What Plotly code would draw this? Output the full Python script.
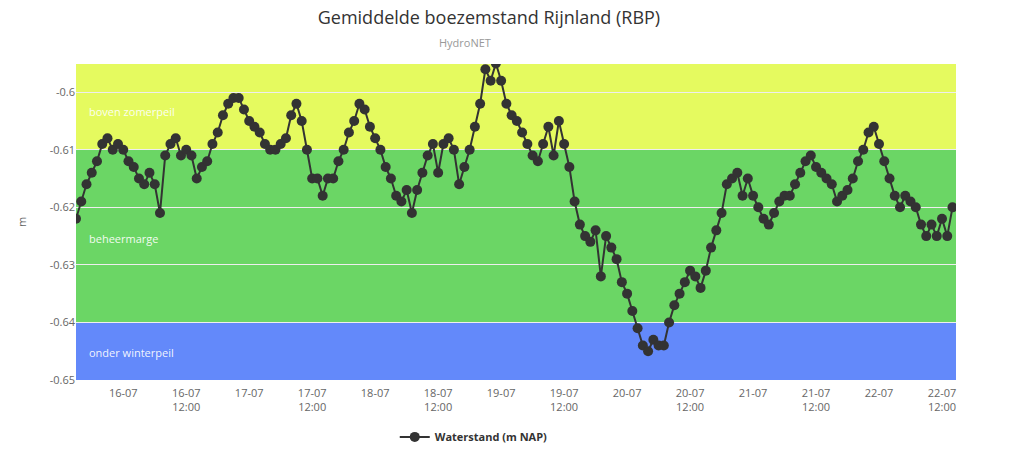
import pandas as pd
import plotly.graph_objects as go

# ---- data ----
start_time = "2019-07-15 15:00"
waterstand = [
    -0.622, -0.619, -0.616, -0.614, -0.612, -0.609, -0.608, -0.610, -0.609, -0.610,
    -0.612, -0.613, -0.615, -0.616, -0.614, -0.616, -0.621, -0.611, -0.609, -0.608,
    -0.611, -0.610, -0.611, -0.615, -0.613, -0.612, -0.609, -0.607, -0.604, -0.602,
    -0.601, -0.601, -0.603, -0.605, -0.606, -0.607, -0.609, -0.610, -0.610, -0.609,
    -0.608, -0.604, -0.602, -0.605, -0.610, -0.615, -0.615, -0.618, -0.615, -0.615,
    -0.612, -0.610, -0.607, -0.605, -0.602, -0.603, -0.606, -0.608, -0.610, -0.613,
    -0.615, -0.618, -0.619, -0.617, -0.621, -0.617, -0.614, -0.611, -0.609, -0.614,
    -0.609, -0.608, -0.610, -0.616, -0.613, -0.610, -0.606, -0.602, -0.596, -0.598,
    -0.595, -0.598, -0.602, -0.604, -0.605, -0.607, -0.609, -0.611, -0.612, -0.609,
    -0.606, -0.611, -0.605, -0.609, -0.613, -0.619, -0.623, -0.625, -0.626, -0.624,
    -0.632, -0.625, -0.627, -0.629, -0.633, -0.635, -0.638, -0.641, -0.644, -0.645,
    -0.643, -0.644, -0.644, -0.640, -0.637, -0.635, -0.633, -0.631, -0.632, -0.634,
    -0.631, -0.627, -0.624, -0.621, -0.616, -0.615, -0.614, -0.618, -0.615, -0.618,
    -0.620, -0.622, -0.623, -0.621, -0.619, -0.618, -0.618, -0.616, -0.614, -0.612,
    -0.611, -0.613, -0.614, -0.615, -0.616, -0.619, -0.618, -0.617, -0.615, -0.612,
    -0.610, -0.607, -0.606, -0.609, -0.612, -0.615, -0.618, -0.620, -0.618, -0.619,
    -0.620, -0.623, -0.625, -0.623, -0.625, -0.622, -0.625, -0.620,
]
times = pd.date_range(start_time, periods=len(waterstand), freq="h")

tick_times = pd.date_range("2019-07-16 00:00", "2019-07-22 12:00", freq="12h")
tick_labels = [
    "16-07", "16-07<br>12:00", "17-07", "17-07<br>12:00", "18-07", "18-07<br>12:00",
    "19-07", "19-07<br>12:00", "20-07", "20-07<br>12:00", "21-07", "21-07<br>12:00",
    "22-07", "22-07<br>12:00",
]
y_ticks = [-0.65, -0.64, -0.63, -0.62, -0.61, -0.6]
y_tick_labels = ["-0.65", "-0.64", "-0.63", "-0.62", "-0.61", "-0.6"]

bands = [
    ("boven zomerpeil", -0.61, -0.59, "#e5fa5f"),
    ("beheermarge", -0.64, -0.61, "#6bd665"),
    ("onder winterpeil", -0.66, -0.64, "#6389fa"),
]
band_label_y = [-0.6033, -0.6255, -0.6452]

x_start = times[0]
x_end = pd.Timestamp("2019-07-22 14:40")
y_min, y_max = -0.65, -0.5951

fig = go.Figure()

fig.add_trace(go.Scatter(
    x=times, y=waterstand, mode="lines+markers", name="<b>Waterstand (m NAP)</b>",
    line=dict(color="#333333", width=2),
    marker=dict(color="#333333", size=10, symbol="circle"),
))

shapes = []
annotations = []
for (label, lo, hi, col), ly in zip(bands, band_label_y):
    shapes.append(dict(type="rect", xref="paper", yref="y", x0=0, x1=1,
                       y0=max(lo, y_min), y1=min(hi, y_max),
                       fillcolor=col, line=dict(width=0), layer="below"))
    annotations.append(dict(xref="paper", yref="y", x=0.012, y=ly, text=label,
                            showarrow=False, xanchor="left", yanchor="middle",
                            font=dict(family="Open Sans, sans-serif", size=11,
                                      color="rgba(255,255,255,0.92)")))

annotations.append(dict(xref="paper", yref="paper", x=0.442, xanchor="center",
                        y=1, yanchor="bottom", yshift=12, text="HydroNET", showarrow=False,
                        font=dict(family="Open Sans, sans-serif", size=11, color="#999999")))

fig.update_layout(
    width=1024, height=467,
    margin=dict(l=76, r=68, t=64, b=87),
    paper_bgcolor="white", plot_bgcolor="white",
    title=dict(text="Gemiddelde boezemstand Rijnland (RBP)", x=0.4775, xanchor="center",
               y=0.962, yanchor="middle",
               font=dict(family="Open Sans, sans-serif", size=18, color="#333333")),
    shapes=shapes, annotations=annotations,
    showlegend=True,
    legend=dict(orientation="h", x=0.452, xanchor="center", y=-0.18, yanchor="middle",
                font=dict(family="Open Sans, sans-serif", size=11, color="#333333"),
                itemwidth=30),
    xaxis=dict(type="date", range=[x_start, x_end], tickvals=tick_times, ticktext=tick_labels,
               showgrid=False, zeroline=False, showline=False, ticks="",
               ticklabelstandoff=5,
               tickfont=dict(family="Open Sans, sans-serif", size=11, color="#666666")),
    yaxis=dict(range=[y_min, y_max], tickvals=y_ticks, ticktext=y_tick_labels,
               showgrid=True, gridcolor="#eeeeee", gridwidth=1, zeroline=False,
               showline=False, ticks="", ticklen=0,
               title=dict(text="m", standoff=20,
                          font=dict(family="Open Sans, sans-serif", size=11, color="#666666")),
               tickfont=dict(family="Open Sans, sans-serif", size=11, color="#666666")),
    font=dict(family="Open Sans, sans-serif"),
)

fig.write_html("out.html")
